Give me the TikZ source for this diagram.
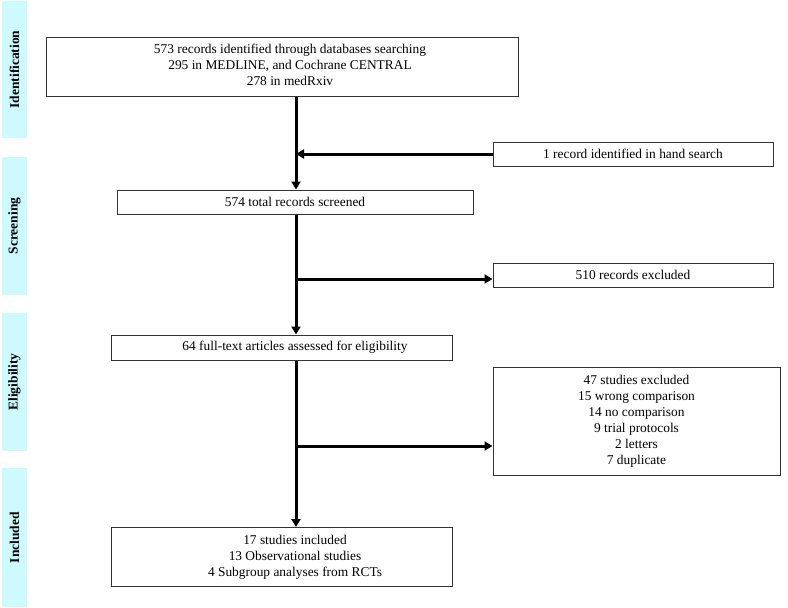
\documentclass[tikz,border=0pt]{standalone}
\usepackage{fontspec}
\setmainfont{Liberation Serif}
\usetikzlibrary{arrows.meta}
\definecolor{barcol}{HTML}{CCFAFF}
\definecolor{boxline}{HTML}{333333}
\begin{document}
\begin{tikzpicture}[x=1pt,y=-1pt,
  bar/.style={fill=barcol,draw=none},
  barlabel/.style={rotate=90,font=\fontsize{13.5}{15}\selectfont\bfseries},
  box/.style={draw=boxline,line width=1pt,fill=white,align=center,font=\fontsize{13.4}{16}\selectfont,inner sep=0pt},
  txt/.style={align=center,font=\fontsize{13.4}{16}\selectfont,inner sep=0pt},
  flow/.style={line width=3pt},
  arr/.style={flow,-{Triangle[length=8pt,width=9pt]}}]
\useasboundingbox (0,0) rectangle (788,608);
% side bars
\fill[bar] (2,1) rectangle (27,138) node[midway,barlabel] (lid) {Identification};
\fill[bar] (2,157) rectangle (27,295) node[midway,barlabel] (lsc) {Screening};
\fill[bar] (2,313) rectangle (27,451) node[midway,barlabel] (lel) {Eligibility};
\fill[bar] (2,468) rectangle (27,607) node[midway,barlabel] (lin) {Included};
% boxes
\node[box,minimum width=472pt,minimum height=59pt] (b1) at (282,66.5) {};
\node[txt] (t1) at (290,65)
  {573 records identified through databases searching\\295 in MEDLINE, and Cochrane CENTRAL\\278 in medRxiv};
\node[box,minimum width=280pt,minimum height=24pt] (hs) at (633,154)
  {1 record identified in hand search};
\node[box,minimum width=356pt,minimum height=24pt] (b2) at (295,202)
  {574 total records screened};
\node[box,minimum width=280pt,minimum height=24pt] (ex1) at (633,275)
  {510 records excluded};
\node[box,minimum width=341pt,minimum height=25pt] (b3) at (281.5,347.5) {};
\node[txt] (t3) at (295,347.5) {64 full-text articles assessed for eligibility};
\node[box,minimum width=287pt,minimum height=108pt] (ex2) at (636.5,421)
  {47 studies excluded\\15 wrong comparison\\14 no comparison\\9 trial protocols\\2 letters\\7 duplicate};
\node[box,minimum width=341pt,minimum height=59pt] (b4) at (281.5,557) {};
\node[txt] (t4) at (295,557)
  {17 studies included\\13 Observational studies\\4 Subgroup analyses from RCTs};
% junction coordinates
\coordinate (j1) at (296,154);
\coordinate (j2) at (296,279);
\coordinate (j3) at (296,446);
% connectors
\draw[arr] (b1.south -| j1) -- (b2.north -| j1);
\draw[arr] (hs.west) -- (j1);
\draw[arr] (b2.south -| j2) -- (b3.north -| j2);
\draw[arr] (j2) -- (ex1.west |- j2);
\draw[arr] (b3.south -| j3) -- (b4.north -| j3);
\draw[arr] (j3) -- (ex2.west |- j3);
\end{tikzpicture}
\end{document}
